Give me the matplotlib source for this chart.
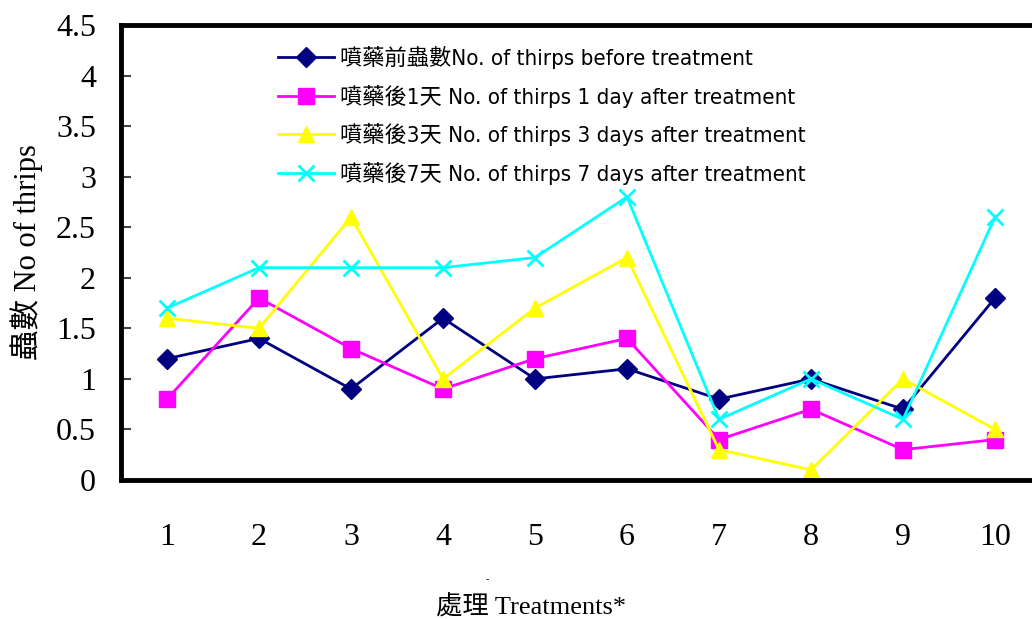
import matplotlib
matplotlib.use("Agg")
import matplotlib.pyplot as plt

# Treatment numbers and thrips counts per observation time
treatments = [1, 2, 3, 4, 5, 6, 7, 8, 9, 10]
before = [1.2, 1.4, 0.9, 1.6, 1.0, 1.1, 0.8, 1.0, 0.7, 1.8]
after_1d = [0.8, 1.8, 1.3, 0.9, 1.2, 1.4, 0.4, 0.7, 0.3, 0.4]
after_3d = [1.6, 1.5, 2.6, 1.0, 1.7, 2.2, 0.3, 0.1, 1.0, 0.5]
after_7d = [1.7, 2.1, 2.1, 2.1, 2.2, 2.8, 0.6, 1.0, 0.6, 2.6]

series_labels = [
    "噴藥前蟲數No. of thirps before treatment",
    "噴藥後1天 No. of thirps 1 day after treatment",
    "噴藥後3天 No. of thirps 3 days after treatment",
    "噴藥後7天 No. of thirps 7 days after treatment",
]
y_ticks = [0, 0.5, 1, 1.5, 2, 2.5, 3, 3.5, 4, 4.5]
y_tick_labels = ["0", "0.5", "1", "1.5", "2", "2.5", "3", "3.5", "4", "4.5"]

serif = ["Liberation Serif", "Noto Sans CJK TC"]
narrow = ["DejaVu Sans", "Noto Sans CJK TC"]

W, H = 1032, 619
fig = plt.figure(figsize=(W / 100, H / 100), dpi=100)
ax = fig.add_axes([121 / W, 1 - 480 / H, 920 / W, 455 / H])

styles = [
    dict(color="#000080", marker="D", markersize=10),
    dict(color="#FF00FF", marker="s", markersize=11),
    dict(color="#FFFF00", marker="^", markersize=12),
    dict(color="#00FFFF", marker="x", markersize=12, markeredgewidth=2),
]
for vals, lab, st in zip([before, after_1d, after_3d, after_7d], series_labels, styles):
    ax.plot(treatments, vals, linewidth=2, label=lab, clip_on=False, **st)

ax.set_xlim(0.5, 10.5)
ax.set_ylim(0, 4.5)
ax.set_xticks(treatments)
ax.set_xticklabels([str(t) for t in treatments], family=serif, fontsize=23)
ax.set_yticks(y_ticks)
ax.set_yticklabels(y_tick_labels, family=serif, fontsize=23)
ax.tick_params(axis="x", length=0, pad=31)
ax.tick_params(axis="y", direction="in", length=7, width=1.5, color="#444444", pad=18)

for side in ("left", "top", "bottom"):
    ax.spines[side].set_linewidth(3.5)
    ax.spines[side].set_color("black")
ax.spines["right"].set_visible(False)

ax.set_ylabel("蟲數 No of thrips", family=serif, fontsize=22)
ax.yaxis.set_label_coords(-(121 - 43) / 920, 0.5)
fig.text(531 / W, 1 - 607 / H, "處理 Treatments*", family=serif, fontsize=19,
         ha="center", va="center")
fig.text(487 / W, 1 - 580 / H, "-", family=serif, fontsize=7, ha="center", va="center")

leg = ax.legend(loc="upper left", bbox_to_anchor=(278 / W, 1 - 46 / H),
                bbox_transform=fig.transFigure, frameon=False,
                prop=dict(family=narrow, size=16, stretch="condensed"), handlelength=2.5,
                handletextpad=0.3, labelspacing=0.7, borderpad=0, borderaxespad=0)

fig.savefig("out.png", dpi=100)
